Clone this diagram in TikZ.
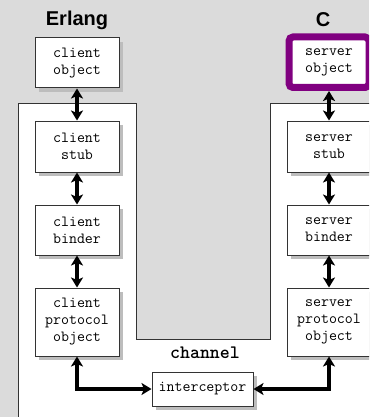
\documentclass[tikz,border=0pt]{standalone}
\usepackage{fontspec}
\setsansfont{Liberation Sans}
\usetikzlibrary{arrows.meta,shadows}
\definecolor{bg}{gray}{0.86}
\definecolor{shade}{gray}{0.74}
\definecolor{edge}{gray}{0.2}
\definecolor{srvpurple}{RGB}{128,0,128}
\begin{document}
\begin{tikzpicture}[x=1pt,y=-1pt,
  comp/.style={draw=edge, line width=1pt, fill=white, minimum width=84pt,
    align=center, inner sep=0pt,
    font=\ttfamily\fontsize{15.5}{17}\selectfont,
    drop shadow={shadow xshift=4pt, shadow yshift=-4pt, fill=shade, opacity=1}},
  link/.style={line width=3.4pt, {Stealth[length=10pt,width=12pt,inset=2.5pt]}-{Stealth[length=10pt,width=12pt,inset=2.5pt]}},
  title/.style={font=\sffamily\bfseries\fontsize{20}{22}\selectfont}
]
\useasboundingbox (0,0) rectangle (369,417);
\clip (0,0) rectangle (369,417);
\fill[bg] (0,0) rectangle (369,417);

% process area with the channel notch
\draw[draw=edge, line width=1pt, fill=white]
  (18,430) -- (18,104) -- (136,104) -- (136,339) -- (270,339)
  -- (270,104) -- (390,104) -- (390,430) -- cycle;

\node[title] (erl) at (77,20) {Erlang};
\node[title] (cl) at (323,20) {C};

% client side
\node[comp, minimum height=50pt] (cobj) at (77,63) {client\\object};
\node[comp, minimum height=51pt] (cstub) at (77,146.5) {client\\stub};
\node[comp, minimum height=50pt] (cbind) at (77,230) {client\\binder};
\node[comp, minimum height=68pt] (cproto) at (77,322) {client\\protocol\\object};

% server side
\node[comp, minimum height=51pt] (sstub) at (329,146.5) {server\\stub};
\node[comp, minimum height=50pt] (sbind) at (329,230) {server\\binder};
\node[comp, minimum height=68pt] (sproto) at (329,322) {server\\protocol\\object};
\node[draw=srvpurple, line width=7pt, rounded corners=4pt, fill=white,
  minimum width=80pt, minimum height=50.5pt, align=center, inner sep=0pt,
  font=\ttfamily\fontsize{15.5}{17}\selectfont] (sobj) at (329,62.25) {server\\object};

% channel
\node[font=\ttfamily\bfseries\fontsize{19}{21}\selectfont] (chan) at (205,353) {channel};
\node[comp, minimum width=101pt, minimum height=34pt] (icpt) at (202.5,389) {interceptor};

% connectors
\draw[link] (cobj.south) -- (cstub.north);
\draw[link] (cstub.south) -- (cbind.north);
\draw[link] (cbind.south) -- (cproto.north);
\draw[link] (sobj.south) -- (sstub.north);
\draw[link] (sstub.south) -- (sbind.north);
\draw[link] (sbind.south) -- (sproto.north);
\draw[link] (cproto.south) |- (icpt.west);
\draw[link] (sproto.south) |- (icpt.east);
\end{tikzpicture}
\end{document}
